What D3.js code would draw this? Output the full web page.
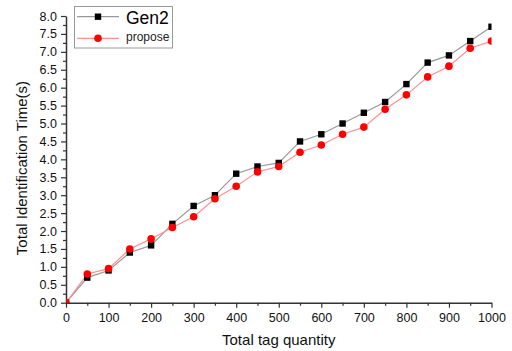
<!DOCTYPE html>
<html><head><meta charset="utf-8">
<script src="https://cdn.jsdelivr.net/npm/d3@7"></script>
<style>body{margin:0;background:#fff}svg{display:block}</style>
</head><body>
<svg id="c" width="512" height="351"></svg>
<script>
const tagQuantity = [0,50,100,150,200,250,300,350,400,450,500,550,600,650,700,750,800,850,900,950,1000];
const gen2 = [0,0.7,0.9,1.4,1.6,2.2,2.7,3.0,3.6,3.8,3.9,4.5,4.7,5.0,5.3,5.6,6.1,6.7,6.9,7.3,7.7];
const propose = [0,0.8,0.95,1.5,1.78,2.1,2.4,2.9,3.25,3.65,3.8,4.2,4.4,4.7,4.9,5.4,5.8,6.3,6.6,7.1,7.3];
const xTicks = [0,100,200,300,400,500,600,700,800,900,1000];
const yTicks = [0,0.5,1,1.5,2,2.5,3,3.5,4,4.5,5,5.5,6,6.5,7,7.5,8];
const seriesNames = ["Gen2","propose"];

const svg = d3.select("#c");
const L=66, R=491.5, T=16, B=302.7;
const x = d3.scaleLinear().domain([0,1000]).range([L,R]);
const y = d3.scaleLinear().domain([0,8]).range([B,T]);
const font = "Arial, 'Liberation Sans', sans-serif";

// minor ticks
const xMinor = d3.range(50,1000,100);
const yMinor = d3.range(0.25,8,0.5);
svg.append("g").attr("transform",`translate(0,${B})`)
  .call(d3.axisBottom(x).tickValues(xMinor).tickSize(3).tickFormat(""))
  .call(g=>g.select(".domain").remove())
  .selectAll("line").attr("stroke","#333").attr("stroke-width",1.2);
svg.append("g").attr("transform",`translate(${L},0)`)
  .call(d3.axisLeft(y).tickValues(yMinor).tickSize(3).tickFormat(""))
  .call(g=>g.select(".domain").remove())
  .selectAll("line").attr("stroke","#333").attr("stroke-width",1.2);

const xa = svg.append("g").attr("transform",`translate(0,${B})`)
  .call(d3.axisBottom(x).tickValues(xTicks).tickSize(5).tickSizeOuter(0).tickPadding(5).tickFormat(d3.format("d")));
const ya = svg.append("g").attr("transform",`translate(${L},0)`)
  .call(d3.axisLeft(y).tickValues(yTicks).tickSize(5).tickSizeOuter(0).tickPadding(4).tickFormat(d3.format(".1f")));
[xa,ya].forEach(a=>{
  a.select(".domain").attr("stroke","#333").attr("stroke-width",1.5);
  a.selectAll(".tick line").attr("stroke","#333").attr("stroke-width",1.2);
  a.selectAll("text").attr("font-family",font).attr("font-size",12.5).attr("fill","#111");
});

svg.append("text").attr("x",(L+R)/2).attr("y",345).attr("text-anchor","middle")
  .attr("font-family",font).attr("font-size",15).attr("fill","#111").text("Total tag quantity");
svg.append("text").attr("transform",`translate(27,168) rotate(-90)`).attr("text-anchor","middle")
  .attr("font-family",font).attr("font-size",15).attr("fill","#111").text("Total Identification Time(s)");

svg.append("clipPath").attr("id","clip").append("rect")
  .attr("x",L).attr("y",0).attr("width",R-L).attr("height",B);
const plot = svg.append("g").attr("clip-path","url(#clip)");
const line = d3.line().x((d,i)=>x(tagQuantity[i])).y(d=>y(d));
plot.append("path").datum(gen2).attr("d",line).attr("fill","none").attr("stroke","#999").attr("stroke-width",1.2);
plot.append("path").datum(propose).attr("d",line).attr("fill","none").attr("stroke","#ff9090").attr("stroke-width",1.2);
plot.selectAll(".sq").data(gen2).enter().append("rect")
  .attr("x",(d,i)=>x(tagQuantity[i])-3.2).attr("y",d=>y(d)-3.2).attr("width",6.4).attr("height",6.4).attr("fill","#000");
plot.selectAll(".ci").data(propose).enter().append("circle")
  .attr("cx",(d,i)=>x(tagQuantity[i])).attr("cy",d=>y(d)).attr("r",3.8).attr("fill","#f00");

// legend
const lg = svg.append("g");
lg.append("rect").attr("x",74.5).attr("y",6.5).attr("width",98).attr("height",41.5)
  .attr("fill","#fff").attr("stroke","#999").attr("stroke-width",1);
lg.append("line").attr("x1",77).attr("x2",119).attr("y1",16.7).attr("y2",16.7).attr("stroke","#999").attr("stroke-width",1.2);
lg.append("rect").attr("x",98-3.2).attr("y",16.7-3.2).attr("width",6.4).attr("height",6.4).attr("fill","#000");
lg.append("line").attr("x1",77).attr("x2",119).attr("y1",38.3).attr("y2",38.3).attr("stroke","#ff9090").attr("stroke-width",1.2);
lg.append("circle").attr("cx",98).attr("cy",38.3).attr("r",3.8).attr("fill","#f00");
lg.append("text").attr("x",126).attr("y",24).attr("font-family",font).attr("font-size",17.5).attr("fill","#000").text(seriesNames[0]);
lg.append("text").attr("x",126).attr("y",41).attr("font-family",font).attr("font-size",12).attr("fill","#222").text(seriesNames[1]);
</script>
</body></html>
